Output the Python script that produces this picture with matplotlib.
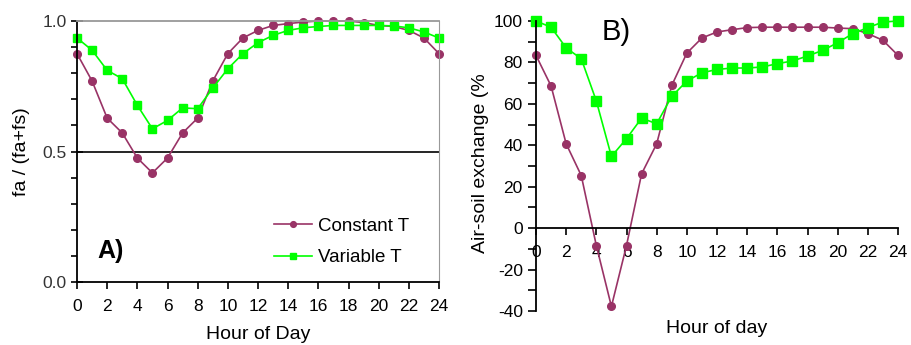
import matplotlib
matplotlib.use('Agg')
import matplotlib.pyplot as plt
from matplotlib.ticker import MultipleLocator

plt.rcParams['font.family'] = ['Liberation Sans', 'DejaVu Sans']
plt.rcParams['axes.unicode_minus'] = False

hours = list(range(25))

# panel A: fa / (fa+fs)
frac_const = [0.875, 0.770, 0.628, 0.571, 0.475, 0.418, 0.475, 0.571, 0.628, 0.770,
              0.875, 0.935, 0.964, 0.983, 0.990, 0.996, 1.000, 1.000, 1.000, 0.994,
              0.983, 0.979, 0.964, 0.935, 0.875]
frac_var = [0.935, 0.888, 0.811, 0.779, 0.677, 0.587, 0.619, 0.667, 0.664, 0.743,
            0.817, 0.875, 0.917, 0.945, 0.964, 0.974, 0.979, 0.983, 0.983, 0.983,
            0.983, 0.981, 0.974, 0.958, 0.935]

# panel B: air-soil exchange (%)
exch_const = [83.4, 68.6, 40.7, 25.4, -8.4, -37.8, -8.4, 26.2, 40.7, 68.9,
              84.5, 91.8, 94.7, 95.8, 96.8, 97.0, 97.0, 97.0, 97.0, 97.0,
              96.6, 96.3, 93.9, 90.7, 83.4]
exch_var = [100.0, 97.0, 87.0, 81.8, 61.4, 34.6, 43.2, 53.1, 50.4, 63.6,
            71.0, 75.0, 76.6, 77.3, 77.3, 77.8, 79.4, 80.7, 83.1, 85.8,
            89.5, 93.9, 96.8, 99.5, 100.0]

x_ticks = list(range(0, 25, 2))

purple = '#993366'
green = '#00ff00'

fig = plt.figure(figsize=(9.11, 3.45), dpi=100)

# ---- panel A ----
ax1 = fig.add_axes([77/911, 63/345, 362/911, 261/345])
ax1.plot(hours, frac_const, color=purple, marker='o', ms=5.5, lw=1.2,
         label='Constant T', clip_on=False)
ax1.plot(hours, frac_var, color=green, marker='s', ms=5.5, lw=1.2,
         label='Variable T', clip_on=False)
ax1.axhline(0.5, color='black', lw=1.2, zorder=0)
ax1.set_xlim(0, 24)
ax1.set_ylim(0, 1)
ax1.set_xticks(x_ticks)
ax1.set_yticks([0, 0.5, 1.0])
ax1.set_yticklabels(['0.0', '0.5', '1.0'])
ax1.yaxis.set_minor_locator(MultipleLocator(0.1))
for s in ['top', 'right']:
    ax1.spines[s].set_color('#999999')
for s in ['left', 'bottom', 'top']:
    ax1.spines[s].set_linewidth(1.3)
ax1.tick_params(axis='y', which='major', direction='inout', length=8, width=1.2,
                labelsize=12.5, labelcolor='#333333')
ax1.tick_params(axis='y', which='minor', direction='out', length=4, width=1.2)
ax1.tick_params(axis='x', direction='out', length=5, width=1.2, labelsize=12.5, pad=7)
ax1.set_ylabel('fa / (fa+fs)', fontsize=14)
ax1.yaxis.set_label_coords(-0.13, 0.5)
ax1.set_xlabel('Hour of Day', fontsize=14, va='top')
ax1.xaxis.set_label_coords(0.5, -0.17)
ax1.text(0.055, 0.12, 'A)', transform=ax1.transAxes, fontsize=18, fontweight='bold',
         va='center', ha='left')
ax1.legend(loc='lower right', bbox_to_anchor=(0.965, -0.005), frameon=False, fontsize=13.5,
           handlelength=2.0, handletextpad=0.35, labelspacing=0.78, markerscale=0.75)

# ---- panel B ----
ax2 = fig.add_axes([536/911, 34/345, 362/911, 290/345])
ax2.plot(hours, exch_const, color=purple, marker='o', ms=5.5, lw=1.2, clip_on=False)
ax2.plot(hours, exch_var, color=green, marker='s', ms=6.5, lw=1.2, clip_on=False)
ax2.set_xlim(0, 24)
ax2.set_ylim(-40, 100)
ax2.set_xticks(x_ticks)
ax2.set_yticks(range(-40, 101, 20))
ax2.yaxis.set_minor_locator(MultipleLocator(10))
ax2.spines['top'].set_visible(False)
ax2.spines['right'].set_visible(False)
ax2.spines['bottom'].set_position(('data', 0))
ax2.spines['left'].set_linewidth(1.3)
ax2.spines['bottom'].set_linewidth(1.3)
ax2.tick_params(axis='y', which='both', direction='out', width=1.2, length=6, labelsize=12.5)
ax2.tick_params(axis='x', direction='out', length=5, width=1.2, labelsize=12.5, pad=7)
ax2.set_ylabel('Air-soil exchange (%', fontsize=14)
ax2.yaxis.set_label_coords(-0.13, 0.51)
ax2.set_xlabel('Hour of day', fontsize=14, va='top')
ax2.xaxis.set_label_coords(0.5, -0.03)
ax2.text(0.18, 0.962, 'B)', transform=ax2.transAxes, fontsize=21, va='center', ha='left')

fig.savefig('out.png', dpi=100)
